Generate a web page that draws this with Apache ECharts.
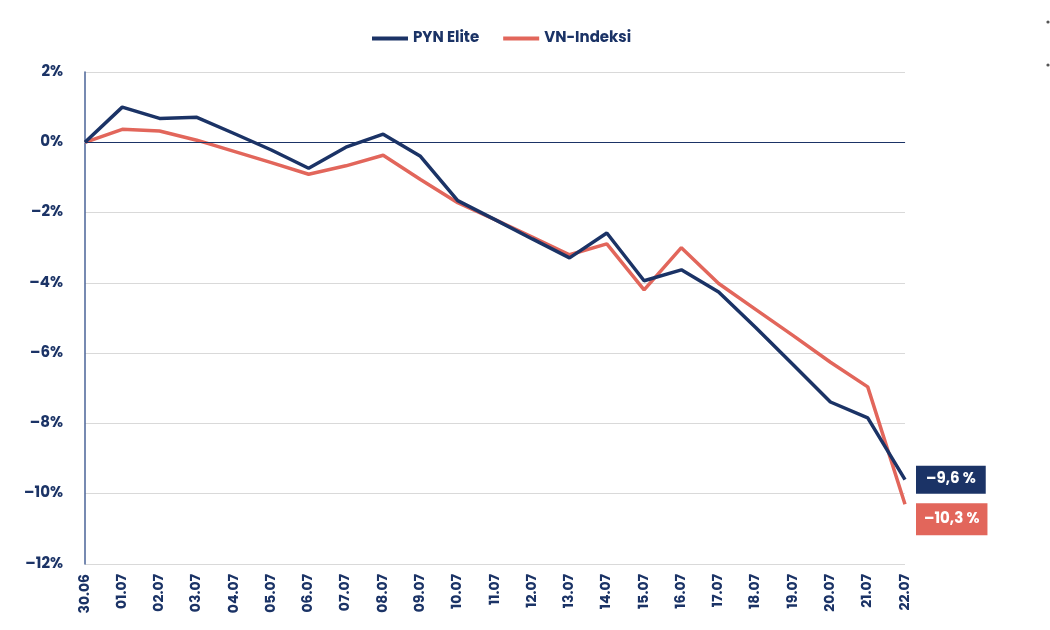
<!DOCTYPE html>
<html>
<head>
<meta charset="utf-8">
<script src="https://cdn.jsdelivr.net/npm/echarts@6/dist/echarts.min.js"></script>
<style>html,body{margin:0;padding:0;background:#fff}#c{width:1050px;height:630px}</style>
</head>
<body>
<div id="c"></div>
<script>
const categories = ['30.06','01.07','02.07','03.07','04.07','05.07','06.07','07.07','08.07','09.07','10.07','11.07','12.07','13.07','14.07','15.07','16.07','17.07','18.07','19.07','20.07','21.07','22.07'];
const pynElite = [0, 1.0, 0.68, 0.71, 0.25, -0.22, -0.74, -0.14, 0.23, -0.4, -1.66, -2.2, -2.75, -3.29, -2.58, -3.94, -3.63, -4.26, -5.28, -6.33, -7.39, -7.84, -9.6];
const vnIndeksi = [0, 0.37, 0.32, 0.06, -0.26, -0.58, -0.91, -0.67, -0.37, -1.06, -1.72, -2.2, -2.7, -3.2, -2.89, -4.2, -3.0, -4.02, -4.76, -5.5, -6.26, -6.96, -10.3];
const yTicks = {min: -12, max: 2, interval: 2};
const endLabels = ['-9,6 %', '-10,3 %'];

const navy = '#1b3366';
const red = '#e2665b';
const font = 'Poppins, Inter, "Noto Sans", sans-serif';
const dash = s => String(s).replace('-', '\u2013');

const chart = echarts.init(document.getElementById('c'));
chart.setOption({
  animation: false,
  legend: {
    top: 26, left: 367,
    itemWidth: 36, itemHeight: 4, itemGap: 24,
    icon: 'rect',
    textStyle: {color: navy, fontWeight: 'bold', fontSize: 15, fontFamily: font},
    data: ['PYN Elite', 'VN-Indeksi']
  },
  grid: {left: 85, right: 145, top: 72, bottom: 66},
  xAxis: {
    type: 'category', data: categories, boundaryGap: false,
    axisLine: {show: true, lineStyle: {color: '#d9d9d9'}},
    axisTick: {show: false},
    axisLabel: {rotate: 90, color: navy, fontWeight: 'bold', fontSize: 14, fontFamily: font, margin: 10, interval: 0}
  },
  yAxis: {
    type: 'value', min: yTicks.min, max: yTicks.max, interval: yTicks.interval,
    axisLine: {show: true, lineStyle: {color: '#4a6397', width: 1.5}},
    axisTick: {show: false},
    splitLine: {lineStyle: {color: '#d9d9d9'}},
    axisLabel: {formatter: v => dash(v) + '%', color: navy, fontWeight: 'bold', fontSize: 15, fontFamily: font, margin: 22}
  },
  series: [
    {
      name: 'PYN Elite', type: 'line', data: pynElite, showSymbol: false, symbol: 'none',
      lineStyle: {color: navy, width: 3.5}, itemStyle: {color: navy}, z: 3,
      endLabel: {
        show: true, formatter: () => dash(endLabels[0]), color: '#fff', backgroundColor: navy,
        fontWeight: 'bold', fontSize: 15, fontFamily: font,
        padding: [7, 10, 6, 10], distance: 11, offset: [0, 0]
      },
      markLine: {
        silent: true, symbol: 'none', label: {show: false},
        lineStyle: {color: navy, width: 1, type: 'solid'},
        data: [{yAxis: 0}]
      }
    },
    {
      name: 'VN-Indeksi', type: 'line', data: vnIndeksi, showSymbol: false, symbol: 'none',
      lineStyle: {color: red, width: 3.5}, itemStyle: {color: red}, z: 2,
      endLabel: {
        show: true, formatter: () => dash(endLabels[1]), color: '#fff', backgroundColor: red,
        fontWeight: 'bold', fontSize: 15, fontFamily: font,
        padding: [9, 8, 8, 8], distance: 11, offset: [0, 15]
      }
    }
  ],
  graphic: [
    {type: 'circle', shape: {cx: 1048, cy: 22, r: 1.6}, style: {fill: '#555'}},
    {type: 'circle', shape: {cx: 1048, cy: 65, r: 1.6}, style: {fill: '#555'}}
  ]
});
</script>
</body>
</html>
